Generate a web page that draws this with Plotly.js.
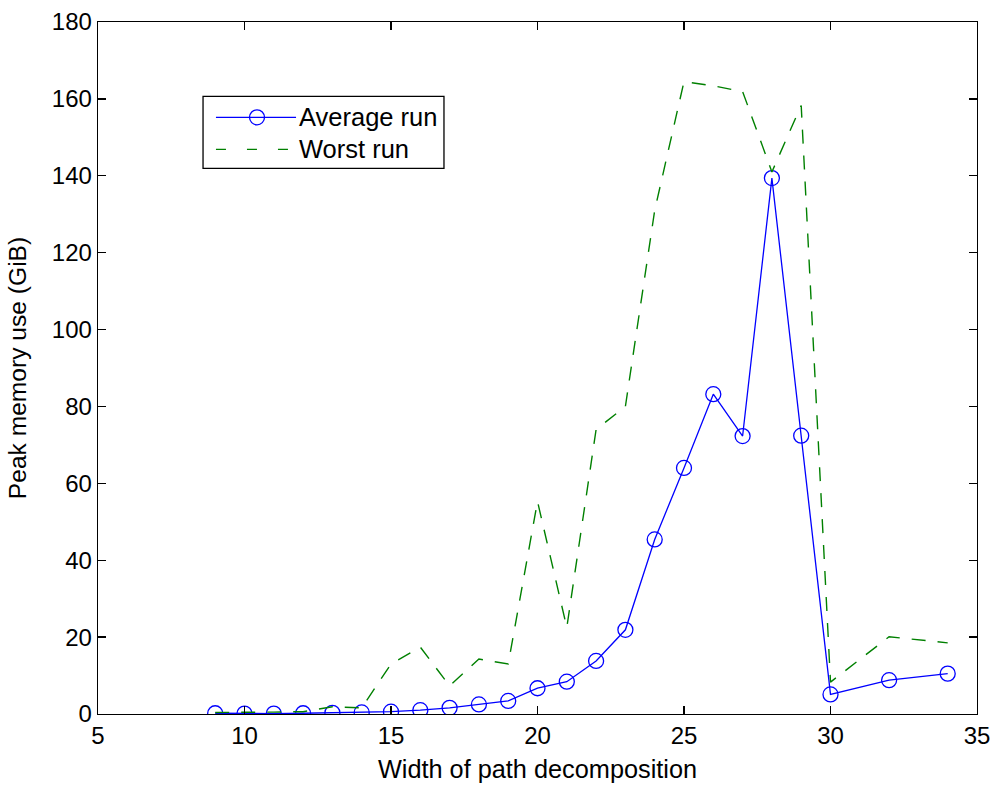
<!DOCTYPE html>
<html>
<head>
<meta charset="utf-8">
<script src="https://cdn.plot.ly/plotly-3.0.1.min.js"></script>
<style>
  html, body { margin: 0; padding: 0; background: #ffffff; }
  #chart { width: 996px; height: 785px; }
</style>
</head>
<body>
<div id="chart"></div>
<script>
// Width of path decomposition vs. peak memory use
const widthAvg = [9, 10, 11, 12, 13, 14, 15, 16, 17, 18, 19, 20, 21, 22, 23, 24, 25, 26, 27, 28, 29, 30, 32, 34];
const avgMemory = [0.2, 0.1, 0.1, 0.2, 0.3, 0.4, 0.6, 1.0, 1.6, 2.5, 3.4, 6.7, 8.4, 13.8, 21.9, 45.4, 64.0, 83.2, 72.3, 139.4, 72.4, 5.1, 8.8, 10.5];

const widthWorst = [9, 10, 11, 12, 13, 14, 15, 16, 17, 18, 19, 20, 21, 22, 23, 24, 25, 26, 27, 28, 29, 30, 32, 34];
const worstMemory = [0.4, 0.4, 0.5, 0.6, 1.9, 1.6, 13.0, 17.4, 7.3, 14.3, 13.0, 55.3, 22.5, 74.0, 80.0, 131.0, 164.5, 163.4, 161.9, 141.0, 158.3, 8.3, 20.1, 18.5];

const xTicks = [5, 10, 15, 20, 25, 30, 35];
const yTicks = [0, 20, 40, 60, 80, 100, 120, 140, 160, 180];

const seriesNames = ['Average run', 'Worst run'];

const BLUE = '#0000ff';
const GREEN = '#008000';
const FONT = '"Liberation Sans", Arial, Helvetica, sans-serif';

const traces = [
  {
    x: widthAvg, y: avgMemory, name: seriesNames[0],
    type: 'scatter', mode: 'lines+markers',
    line: { color: BLUE, width: 1.3 },
    marker: { symbol: 'circle-open', size: 15, color: BLUE, line: { width: 1.3, color: BLUE } },
    showlegend: false, hoverinfo: 'x+y'
  },
  {
    x: widthWorst, y: worstMemory, name: seriesNames[1],
    type: 'scatter', mode: 'lines',
    line: { color: GREEN, width: 1.4, dash: '14px,12px' },
    showlegend: false, hoverinfo: 'x+y'
  }
];

// Boxed legend in the upper left of the axes
const lgX0 = 0.1195, lgX1 = 0.3936, lgY0 = 0.7886, lgY1 = 0.8925;
const rowY = [0.8622, 0.816];
const sampleX0 = 0.1342, sampleX1 = 0.2253, sampleMid = 0.1809, textX = 0.2264;

const shapes = [
  { type: 'rect', xref: 'paper', yref: 'paper', x0: lgX0, x1: lgX1, y0: lgY0, y1: lgY1,
    line: { color: '#000', width: 1.3 }, fillcolor: '#fff', layer: 'above' },
  { type: 'line', xref: 'paper', yref: 'paper', x0: sampleX0, x1: sampleX1, y0: rowY[0], y1: rowY[0],
    line: { color: BLUE, width: 1.3 }, layer: 'above' },
  { type: 'circle', xref: 'paper', yref: 'paper', xsizemode: 'pixel', ysizemode: 'pixel',
    xanchor: sampleMid, yanchor: rowY[0], x0: -7.5, x1: 7.5, y0: -7.5, y1: 7.5,
    line: { color: BLUE, width: 1.3 }, fillcolor: 'rgba(0,0,0,0)', layer: 'above' },
  { type: 'line', xref: 'paper', yref: 'paper', x0: sampleX0, x1: sampleX1, y0: rowY[1], y1: rowY[1],
    line: { color: GREEN, width: 1.4, dash: '10px,21px' }, layer: 'above' }
];

const annotations = seriesNames.map((name, i) => ({
  xref: 'paper', yref: 'paper', x: textX, y: rowY[i],
  xanchor: 'left', yanchor: 'middle', showarrow: false,
  text: name, font: { family: FONT, size: 25.5, color: '#000' }
}));

const axisCommon = {
  showgrid: false, zeroline: false,
  showline: true, linecolor: '#000', linewidth: 1.3, mirror: 'ticks',
  ticks: 'inside', ticklen: 8, tickwidth: 1.3, tickcolor: '#000',
  tickfont: { family: FONT, size: 24, color: '#000' }
};

const layout = {
  width: 996, height: 785,
  margin: { l: 98, r: 19, t: 22, b: 71 },
  paper_bgcolor: '#fff', plot_bgcolor: '#fff',
  font: { family: FONT, size: 24, color: '#000' },
  showlegend: false,
  xaxis: Object.assign({}, axisCommon, {
    range: [5, 35], tickvals: xTicks, ticktext: xTicks.map(String),
    title: { text: 'Width of path decomposition', font: { family: FONT, size: 25.3 }, standoff: 12 }
  }),
  yaxis: Object.assign({}, axisCommon, {
    range: [0, 180], tickvals: yTicks, ticktext: yTicks.map(String),
    title: { text: 'Peak memory use (GiB)', font: { family: FONT, size: 24.6 }, standoff: 18 }
  }),
  shapes: shapes,
  annotations: annotations
};

Plotly.newPlot('chart', traces, layout, { staticPlot: true, displayModeBar: false });
</script>
</body>
</html>
